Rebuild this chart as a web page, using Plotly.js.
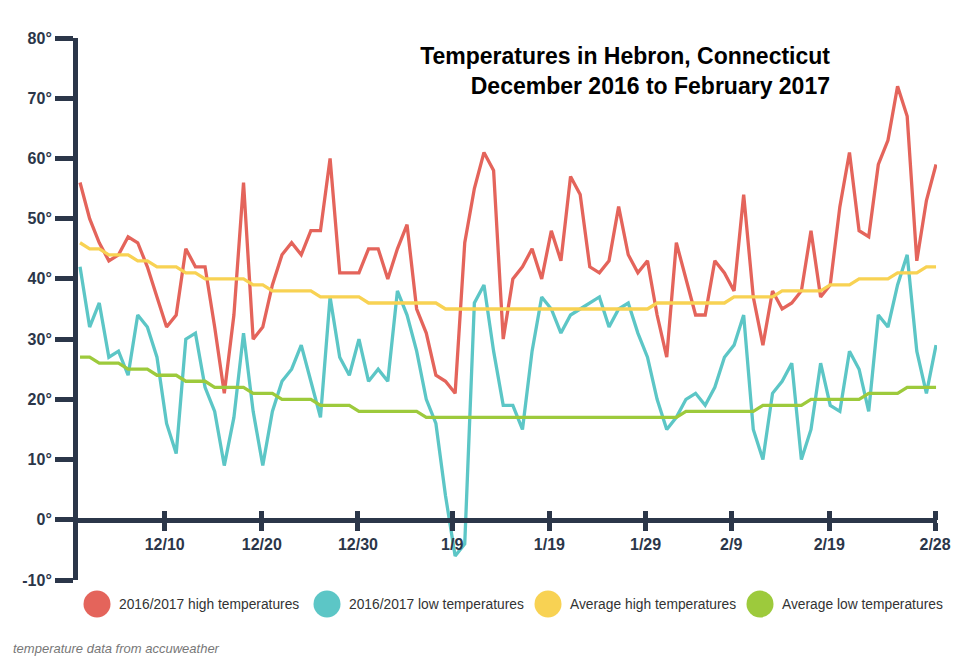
<!DOCTYPE html>
<html>
<head>
<meta charset="utf-8">
<script src="https://cdn.plot.ly/plotly-3.0.1.min.js"></script>
<style>
  html, body { margin: 0; padding: 0; background: #ffffff; }
  #chart { width: 975px; height: 663px; }
</style>
</head>
<body>
<div id="chart"></div>
<script>
// ---- Data (Dec 1, 2016 – Feb 28, 2017, one value per day) ----
const highs = [56,50,46,43,44,47,46,42,37,32, 34,45,42,42,32,21,34,56,30,32,
               39,44,46,44,48,48,60,41,41,41, 45,45,40,45,49,35,31,24,23,21,
               46,55,61,58,30,40,42,45,40,48, 43,57,54,42,41,43,52,44,41,43,
               34,27,46,40,34,34,43,41,38,54, 37,29,38,35,36,38,48,37,39,52,
               61,48,47,59,63,72,67,43,53,59];
const lows = [42,32,36,27,28,24,34,32,27,16, 11,30,31,22,18,9,17,31,18,9,
              18,23,25,29,23,17,37,27,24,30, 23,25,23,38,34,28,20,16,4,-6,
              -4,36,39,28,19,19,15,28,37,35, 31,34,35,36,37,32,35,36,31,27,
              20,15,17,20,21,19,22,27,29,34, 15,10,21,23,26,10,15,26,19,18,
              28,25,18,34,32,39,44,28,21,29];
const avgHighs = [46,45,45,44,44,44,43,43,42,42, 42,41,41,40,40,40,40,40,39,39,
                  38,38,38,38,38,37,37,37,37,37, 36,36,36,36,36,36,36,36,35,35,
                  35,35,35,35,35,35,35,35,35,35, 35,35,35,35,35,35,35,35,35,35,
                  36,36,36,36,36,36,36,36,37,37, 37,37,37,38,38,38,38,38,39,39,
                  39,40,40,40,40,41,41,41,42,42];
const avgLows = [27,27,26,26,26,25,25,25,24,24, 24,23,23,23,22,22,22,22,21,21,
                 21,20,20,20,20,19,19,19,19,18, 18,18,18,18,18,18,17,17,17,17,
                 17,17,17,17,17,17,17,17,17,17, 17,17,17,17,17,17,17,17,17,17,
                 17,17,17,18,18,18,18,18,18,18, 18,19,19,19,19,19,20,20,20,20,
                 20,20,21,21,21,21,22,22,22,22];
const seriesNames = ['2016/2017 high temperatures', '2016/2017 low temperatures',
                     'Average high temperatures', 'Average low temperatures'];
const xTickPos = [8.8, 18.9, 28.9, 38.7, 48.8, 58.8, 67.7, 77.9, 88.9];
const xTickLabels = ['12/10', '12/20', '12/30', '1/9', '1/19', '1/29', '2/9', '2/19', '2/28'];
const yTickVals = [-10, 0, 10, 20, 30, 40, 50, 60, 70, 80];
const yTickLabels = ['-10°', '0°', '10°', '20°', '30°', '40°', '50°', '60°', '70°', '80°'];
const titleText = 'Temperatures in Hebron, Connecticut<br>December 2016 to February 2017';
const sourceText = 'temperature data from accuweather';

// ---- Styles ----
const colors = ['#e4645b', '#5cc6c6', '#f8d253', '#9dca3c'];
const navy = '#2b3649';
const FONT = '"Liberation Sans", Arial, Helvetica, sans-serif';
const W = 975, H = 663;
const M = {l: 78, r: 38, t: 38, b: 83};
const plotW = W - M.l - M.r, plotH = H - M.t - M.b;
const px2x = p => (p - M.l) / plotW;
const px2y = p => (H - M.b - p) / plotH;

const xs = highs.map((_, i) => i);
const seriesData = [highs, lows, avgHighs, avgLows];

const traces = seriesData.map((vals, k) => ({
  type: 'scatter', mode: 'lines', x: xs, y: vals, name: seriesNames[k],
  line: {color: colors[k], width: 3.3}, showlegend: false, hoverinfo: 'x+y'
}));
// helper trace so the overlaid tick axis (upper half of the crossing ticks) is drawn
traces.push({type: 'scatter', mode: 'lines', x: [], y: [], xaxis: 'x2', yaxis: 'y', showlegend: false, hoverinfo: 'skip'});

// custom legend (large circles)
const legendCircleX = [97, 327, 548, 760];
const legendTextX = [117, 347, 568, 780];
const legendY = 604, R = 13.5;
const shapes = legendCircleX.map((cx, k) => ({
  type: 'circle', xref: 'paper', yref: 'paper',
  x0: px2x(cx - R), x1: px2x(cx + R), y0: px2y(legendY + R), y1: px2y(legendY - R),
  fillcolor: colors[k], line: {width: 0}
}));
const annotations = legendTextX.map((tx, k) => ({
  xref: 'paper', yref: 'paper', x: px2x(tx), y: px2y(legendY),
  xanchor: 'left', yanchor: 'middle', showarrow: false, text: seriesNames[k],
  font: {family: FONT, size: 13.8, color: '#333333'}
}));
annotations.push({
  xref: 'paper', yref: 'paper', x: px2x(11), y: px2y(648),
  xanchor: 'left', yanchor: 'middle', showarrow: false, text: '<i>' + sourceText + '</i>',
  font: {family: FONT, size: 13, color: '#777777'}
});

const tickFont = {family: FONT, size: 16, color: navy, weight: 'bold'};
const zeroPos = (0 - yTickVals[0]) / (yTickVals[yTickVals.length - 1] - yTickVals[0]);

const layout = {
  width: W, height: H,
  margin: M,
  paper_bgcolor: '#ffffff', plot_bgcolor: '#ffffff',
  showlegend: false,
  title: {
    text: titleText, xref: 'container', yref: 'container',
    x: 830 / W, xanchor: 'right', y: 1 - 64 / H, yanchor: 'top',
    font: {family: FONT, size: 23, color: '#000000', weight: 'bold'}
  },
  xaxis: {
    range: [-0.21, 89.1], tickvals: xTickPos, ticktext: xTickLabels,
    ticks: 'outside', ticklen: 8, tickwidth: 5, tickcolor: navy,
    showline: true, linewidth: 5, linecolor: navy,
    showgrid: false, zeroline: false, anchor: 'free', position: zeroPos,
    tickfont: tickFont, fixedrange: true
  },
  xaxis2: {
    overlaying: 'x', range: [-0.21, 89.1], tickvals: xTickPos, ticktext: xTickLabels,
    ticks: 'inside', ticklen: 9, tickwidth: 5, tickcolor: navy,
    showticklabels: false, showline: false, showgrid: false, zeroline: false,
    anchor: 'free', position: zeroPos, fixedrange: true
  },
  yaxis: {
    range: [yTickVals[0], yTickVals[yTickVals.length - 1]],
    tickvals: yTickVals, ticktext: yTickLabels,
    ticks: 'outside', ticklen: 18, tickwidth: 5, tickcolor: navy,
    showline: true, linewidth: 5, linecolor: navy,
    showgrid: false, zeroline: false, tickfont: tickFont, fixedrange: true
  },
  shapes: shapes,
  annotations: annotations
};

Plotly.newPlot('chart', traces, layout, {displayModeBar: false, staticPlot: false});
</script>
</body>
</html>
